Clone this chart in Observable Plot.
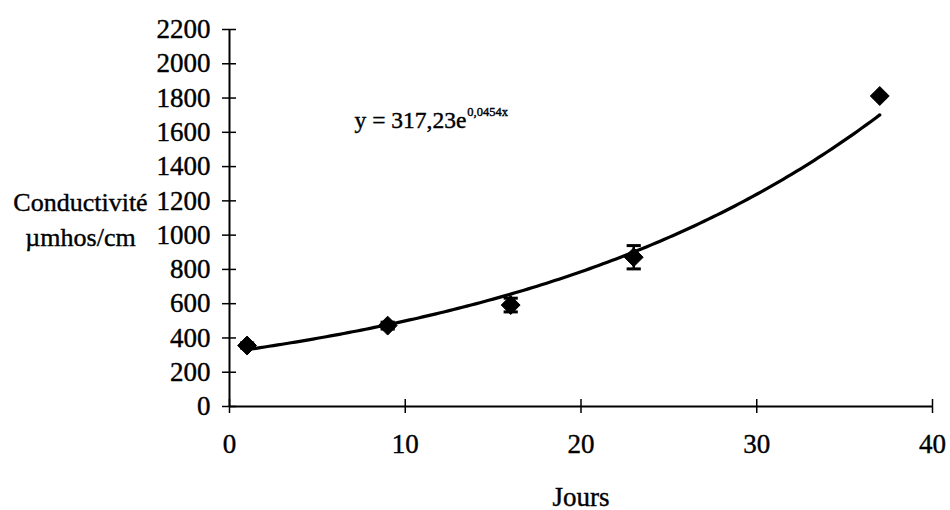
<!DOCTYPE html>
<html>
<head>
<meta charset="utf-8">
<script src="https://cdn.jsdelivr.net/npm/d3@7"></script>
<script src="https://cdn.jsdelivr.net/npm/@observablehq/plot@0.6"></script>
<style>
  html, body { margin: 0; padding: 0; background: #fff; }
  #chart svg { display: block; }
  #chart svg text { stroke: #000; stroke-width: 0.4px; }
</style>
</head>
<body>
<div id="chart"></div>
<script>
// Data
const days = [1, 9, 16, 23, 37];
const conductivity = [356, 472, 592, 871, 1812];
const errors = [15, 20, 40, 68, 6];
const xTicks = [0, 10, 20, 30, 40];
const yTicks = [0, 200, 400, 600, 800, 1000, 1200, 1400, 1600, 1800, 2000, 2200];
// Exponential trendline coefficients printed on the chart: y = 317,23 e^(0,0454x)
const fitA = 317.23;
const fitB = 0.0454;
const fitLabel = "y = 317,23e";
const fitExponent = "0,0454x";

const points = days.map((d, i) => ({day: d, value: conductivity[i], err: errors[i]}));
const curve = d3.range(days[0], days[days.length - 1] + 0.001, 0.25).map(x => ({day: x, value: fitA * Math.exp(fitB * x)}));

const capSymbol = {
  draw(ctx, size) {
    const w = Math.sqrt(size) / 2;
    ctx.moveTo(-w, 0);
    ctx.lineTo(w, 0);
  }
};

const serif = "'Liberation Serif', 'Times New Roman', serif";

const chart = Plot.plot({
  width: 950,
  height: 510,
  marginLeft: 229,
  marginRight: 18,
  marginTop: 29,
  marginBottom: 104,
  style: {color: "#000", background: "#fff", fontFamily: serif},
  x: {domain: [0, 40]},
  y: {domain: [0, 2200]},
  marks: [
    // axis lines
    Plot.ruleX([0], {stroke: "#000", strokeWidth: 2}),
    Plot.ruleY([0], {stroke: "#000", strokeWidth: 2}),
    // crossing ticks
    Plot.axisY({ticks: yTicks, tickSize: 14, dx: 7, text: null, strokeWidth: 1.5, label: null}),
    Plot.axisX({ticks: xTicks, tickSize: 14, dy: -7, text: null, strokeWidth: 1.5, label: null}),
    // tick labels
    Plot.axisY({ticks: yTicks, tickSize: 0, tickPadding: 19, fontSize: 27, fontFamily: serif, label: null, tickFormat: d => String(d)}),
    Plot.axisX({ticks: xTicks, tickSize: 0, tickPadding: 27, fontSize: 27, fontFamily: serif, label: null, tickFormat: d => String(d)}),
    // axis titles
    Plot.text(["Jours"], {frameAnchor: "bottom", dy: 99, fontSize: 27, fontFamily: serif, fill: "#000"}),
    Plot.text(["Conductivité\nµmhos/cm"], {frameAnchor: "left", dx: -149, dy: -1, textAnchor: "middle", fontSize: 26, fontFamily: serif, lineHeight: 1.38, fill: "#000"}),
    // trendline
    Plot.line(curve, {x: "day", y: "value", stroke: "#000", strokeWidth: 3.2, curve: "linear"}),
    // error bars
    Plot.ruleX(points, {x: "day", y1: d => d.value - d.err, y2: d => d.value + d.err, stroke: "#000", strokeWidth: 2.5}),
    Plot.dot(points, {x: "day", y: d => d.value + d.err, symbol: capSymbol, r: 8, stroke: "#000", strokeWidth: 3}),
    Plot.dot(points, {x: "day", y: d => d.value - d.err, symbol: capSymbol, r: 8, stroke: "#000", strokeWidth: 3}),
    // data markers
    Plot.dot(points, {x: "day", y: "value", symbol: "diamond2", r: 8.5, fill: "#000", stroke: "#000", strokeWidth: 1}),
    // equation
    Plot.text([fitLabel], {frameAnchor: "top-left", dx: 125, dy: 98, textAnchor: "start", lineAnchor: "bottom", fontSize: 23.5, fontFamily: serif, fill: "#000"}),
    Plot.text([fitExponent], {frameAnchor: "top-left", dx: 125, dy: 86, textAnchor: "start", lineAnchor: "bottom", fontSize: 12.5, fontFamily: serif, fill: "#000"})
  ]
});

document.getElementById("chart").appendChild(chart);

// place the superscript right after the base text (both share the same anchor)
const texts = Array.from(chart.querySelectorAll("text"));
const base = texts.find(t => t.textContent === fitLabel);
const sup = texts.find(t => t.textContent === fitExponent);
if (base && sup) {
  const shift = base.getComputedTextLength() + 1;
  const tr = sup.getAttribute("transform") || "";
  sup.setAttribute("transform", tr + ` translate(${shift},0)`);
}
</script>
</body>
</html>
